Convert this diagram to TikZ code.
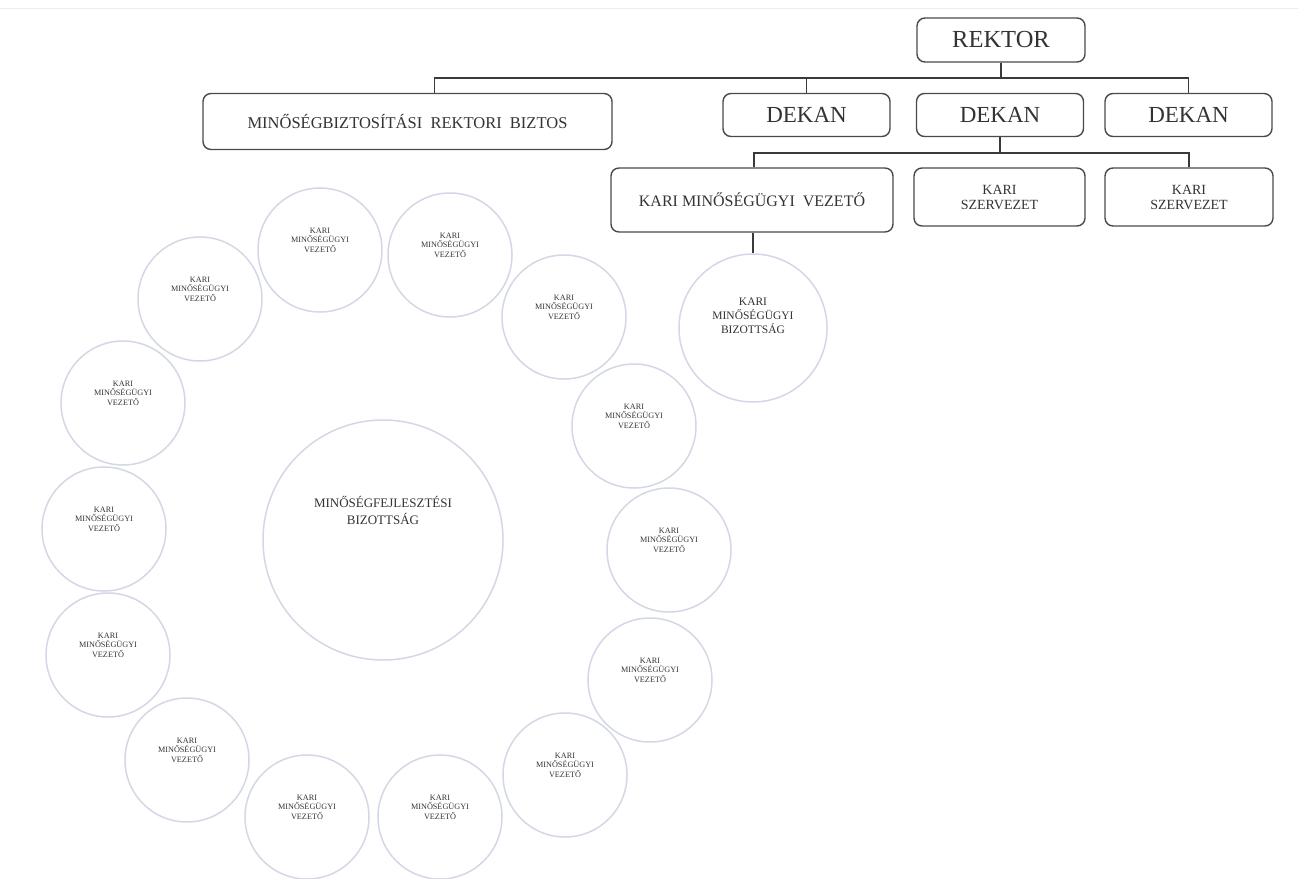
\documentclass[tikz,border=0pt]{standalone}
\usepackage{fontspec}
\setmainfont{Liberation Serif}
\definecolor{boxline}{HTML}{4A4A4A}
\definecolor{conn}{HTML}{3A3A3A}
\definecolor{ring}{HTML}{D3D8E6}
\definecolor{txt}{HTML}{333333}
\newcommand\liftup[2]{\raisebox{0pt}[\height][\dimexpr\depth+#1\relax]{#2}}
\newcommand\kmvlabel{\liftup{18pt}{\begin{tabular}{@{}c@{}}KARI\\MINŐSÉGÜGYI\\VEZETŐ\end{tabular}}}
\tikzset{
  orgbox/.style={draw=boxline, line width=1.4pt, rounded corners=8pt, fill=white, text=txt, inner sep=0pt, align=center},
  ringbig/.style={draw=ring, line width=1.5pt, circle, fill=white, text=txt, inner sep=0pt, align=center},
  ringsmall/.style={ringbig, minimum size=124pt, font=\fontsize{8.2}{9}\selectfont},
  link/.style={draw=conn, line width=1.4pt}
}
\begin{document}
\begin{tikzpicture}[x=1pt,y=-1pt]
\useasboundingbox (0,0) rectangle (1298,878);
\fill[white] (0,0) rectangle (1298,878);
\draw[gray!15, line width=1pt] (0,8) -- (1298,8);

% top hierarchy
\node[orgbox, minimum width=168pt, minimum height=44pt, font=\fontsize{24.5}{26}\selectfont] (rektor) at (1001,40) {REKTOR};
\node[orgbox, minimum width=409pt, minimum height=56pt, font=\fontsize{16.5}{18}\selectfont] (mrb) at (407.5,121.5) {MINŐSÉGBIZTOSÍTÁSI\ \ REKTORI\ \ BIZTOS};
\node[orgbox, minimum width=167pt, minimum height=43pt, font=\fontsize{23}{25}\selectfont] (dek1) at (806.5,115) {DEKAN};
\node[orgbox, minimum width=167pt, minimum height=43pt, font=\fontsize{23}{25}\selectfont] (dek2) at (1000,115) {DEKAN};
\node[orgbox, minimum width=167pt, minimum height=43pt, font=\fontsize{23}{25}\selectfont] (dek3) at (1188.5,115) {DEKAN};

\node[orgbox, minimum width=282pt, minimum height=64pt, font=\fontsize{16}{18}\selectfont] (kmv) at (752,200) {KARI MINŐSÉGÜGYI\ \ VEZETŐ};
\node[orgbox, minimum width=171pt, minimum height=58pt, font=\fontsize{14}{15}\selectfont] (ksz1) at (999.5,197) {KARI\\SZERVEZET};
\node[orgbox, minimum width=168pt, minimum height=58pt, font=\fontsize{14}{15}\selectfont] (ksz2) at (1189,197) {KARI\\SZERVEZET};

\node[ringbig, minimum size=148pt, font=\fontsize{11.5}{14}\selectfont] (kmb) at (753,328)
  {\liftup{22pt}{\begin{tabular}{@{}c@{}}KARI\\MINŐSÉGÜGYI\\BIZOTTSÁG\end{tabular}}};

% connectors
\coordinate (busA) at (0,78);
\coordinate (busB) at (0,153);
\draw[link] (rektor.south) -- (rektor.south |- busA);
\draw[link] ([xshift=27pt]mrb.north) |- (busA -| dek3.north) -- (dek3.north);
\draw[link] (dek1.north) -- (dek1.north |- busA);
\draw[link] (dek2.south) -- (dek2.south |- busB);
\draw[link] ([xshift=2pt]kmv.north) |- (busB -| ksz2.north) -- (ksz2.north);
\draw[link] (kmb.north) -- (kmb.north |- kmv.south);

% central committee
\node[ringbig, minimum size=240pt, font=\fontsize{13}{17}\selectfont] (mfb) at (383,540)
  {\liftup{54pt}{\begin{tabular}{@{}c@{}}MINŐSÉGFEJLESZTÉSI\\BIZOTTSÁG\end{tabular}}};

% ring of faculty quality leaders
\node[ringsmall] (c1)  at (320,250) {\kmvlabel};
\node[ringsmall] (c2)  at (450,255) {\kmvlabel};
\node[ringsmall] (c3)  at (564,317) {\kmvlabel};
\node[ringsmall] (c4)  at (634,426) {\kmvlabel};
\node[ringsmall] (c5)  at (669,550) {\kmvlabel};
\node[ringsmall] (c6)  at (650,680) {\kmvlabel};
\node[ringsmall] (c7)  at (565,775) {\kmvlabel};
\node[ringsmall] (c8)  at (440,817) {\kmvlabel};
\node[ringsmall] (c9)  at (307,817) {\kmvlabel};
\node[ringsmall] (c10) at (187,760) {\kmvlabel};
\node[ringsmall] (c11) at (108,655) {\kmvlabel};
\node[ringsmall] (c12) at (104,529) {\kmvlabel};
\node[ringsmall] (c13) at (123,403) {\kmvlabel};
\node[ringsmall] (c14) at (200,299) {\kmvlabel};
\end{tikzpicture}
\end{document}
